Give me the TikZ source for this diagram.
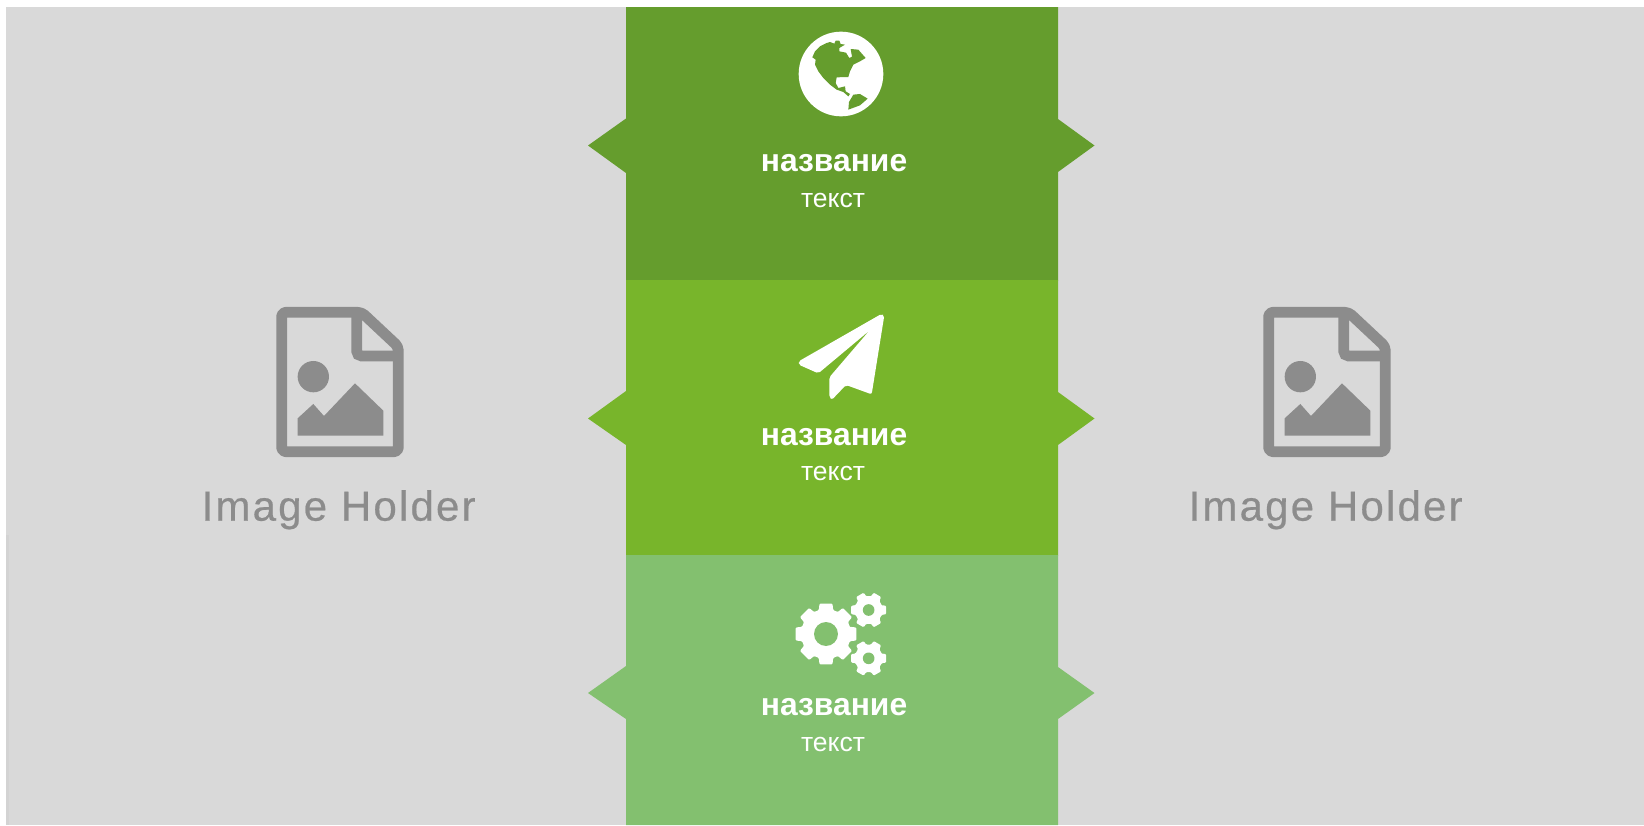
\documentclass[tikz,border=0pt]{standalone}
\usepackage{fontspec}
\usetikzlibrary{calc}
\setmainfont{Liberation Sans}
\definecolor{panelgray}{HTML}{D9D9D9}
\definecolor{stripgray}{HTML}{D3D3D3}
\definecolor{holdergray}{HTML}{8C8C8C}
\definecolor{banddark}{HTML}{659D2D}
\definecolor{bandmid}{HTML}{78B52B}
\definecolor{bandlight}{HTML}{83C06F}
\tikzset{
  titletext/.style={text=white,font=\fontsize{31.8}{32}\selectfont\bfseries,anchor=base,inner sep=0pt},
  bodytext/.style={text=white,font=\fontsize{26.5}{28}\selectfont,anchor=base,inner sep=0pt},
  holdertext/.style={text=holdergray,font=\fontsize{42}{44}\selectfont\addfontfeature{LetterSpace=5.2,FakeBold=0.5},anchor=base,inner sep=0pt},
  icon/.style={x=0.3333pt,y=-0.3333pt},
}
\newcommand{\holder}[2]{% x shift, name
  \begin{scope}[shift={(#1pt,-290pt)},icon]
    \draw[holdergray,line width=10.8pt,rounded corners=4pt,line join=round]
      (305,67) -- (545,67) -- (655,170) -- (655,485) -- (305,485) -- cycle;
    \draw[holdergray,line width=10.8pt,rounded corners=5pt] (530,67) -- (530,198) -- (655,198);
    \fill[holdergray] (400,260) circle[radius=47];
    \fill[holdergray] (353,437) -- (353,385) -- (400,342) -- (432,378) -- (525,280) -- (610,362) -- (610,437) -- cycle;
    \node[holdertext] (#2) at (476,692) {Image Holder};
  \end{scope}
}
\begin{document}
\begin{tikzpicture}[x=1pt,y=-1pt]
\useasboundingbox (0,0) rectangle (1644,825);
\fill[white] (0,0) rectangle (1644,825);
\fill[panelgray] (6,7) rectangle (1644,825);
\fill[stripgray] (6,535) rectangle (9,825);
\holder{180}{holderleft}
\holder{1167}{holderright}
% bands
\fill[banddark] (626,7) -- (1058,7) -- (1058,119) -- (1094.5,145.5) -- (1058,172) -- (1058,280.5) -- (626,280.5) -- (626,173) -- (588,145.5) -- (626,118.5) -- cycle;
\fill[bandmid] (626,280) -- (1058,280) -- (1058,392) -- (1094.5,418.5) -- (1058,445) -- (1058,555.5) -- (626,555.5) -- (626,445) -- (588,418.5) -- (626,391) -- cycle;
\fill[bandlight] (626,555) -- (1058,555) -- (1058,667) -- (1094.5,693) -- (1058,719) -- (1058,825) -- (626,825) -- (626,719) -- (588,693) -- (626,666) -- cycle;
% globe
\begin{scope}[shift={(795pt,-28pt)},icon]
  \fill[white] (138,138) circle[radius=127];
  \fill[banddark] (52,88) -- (60,70) -- (75,55) -- (95,45) -- (105,42) -- (118,47) -- (122,38) -- (133,38) -- (137,48) -- (150,50) -- (133,60) -- (133,70) -- (153,74) -- (163,90) -- (171,86) -- (167,63) -- (190,65) -- (212,90) -- (195,100) -- (175,110) -- (165,130) -- (160,147) -- (125,148) -- (122,165) -- (130,180) -- (150,175) -- (152,190) -- (165,198) -- (160,205) -- (145,192) -- (125,185) -- (105,170) -- (85,150) -- (70,130) -- (60,110) -- (62,95) -- cycle;
  \fill[banddark] (160,245) -- (162,222) -- (175,200) -- (195,198) -- (218,212) -- (195,232) -- cycle;
\end{scope}
\node[titletext] (title1) at (834,171) {название};
\node[bodytext] (body1) at (833,207) {текст};
% plane
\begin{scope}[shift={(740pt,-290pt)},icon]
  \fill[white,rounded corners=2pt] (424,72) -- (176,214) -- (176,224) -- (235,250) -- (388,122) -- (268,262) -- (268,322) -- (276,329) -- (318,285) -- (395,313) -- (433,76) -- cycle;
\end{scope}
\node[titletext] (title2) at (834,445) {название};
\node[bodytext] (body2) at (833,480) {текст};
% gears
\begin{scope}[shift={(740pt,-570pt)},icon]
  \foreach \cx/\cy/\ro/\rr/\rh/\n/\ta/\tb in {258/192/93/75/36/8/0.27/0.37,386/120/54/42/17.5/6/0.23/0.33,386/265/54/42/17.5/6/0.23/0.33}{
    \pgfmathsetmacro{\st}{360/\n}
    \pgfmathsetmacro{\wa}{\st*\ta}
    \pgfmathsetmacro{\wb}{\st*\tb}
    \fill[white,rounded corners=1pt] ($(\cx,\cy)+({-\wb}:\rr)$)
      \foreach \k in {1,...,\n}{
        -- ($(\cx,\cy)+({(\k-1)*\st-\wa}:\ro)$)
        -- ($(\cx,\cy)+({(\k-1)*\st+\wa}:\ro)$)
        -- ($(\cx,\cy)+({(\k-1)*\st+\wb}:\rr)$)
        -- ($(\cx,\cy)+({\k*\st-\wb}:\rr)$)
      };
    \fill[bandlight] (\cx,\cy) circle[radius=\rh];
  }
\end{scope}
\node[titletext] (title3) at (834,715) {название};
\node[bodytext] (body3) at (833,751) {текст};
\end{tikzpicture}
\end{document}
